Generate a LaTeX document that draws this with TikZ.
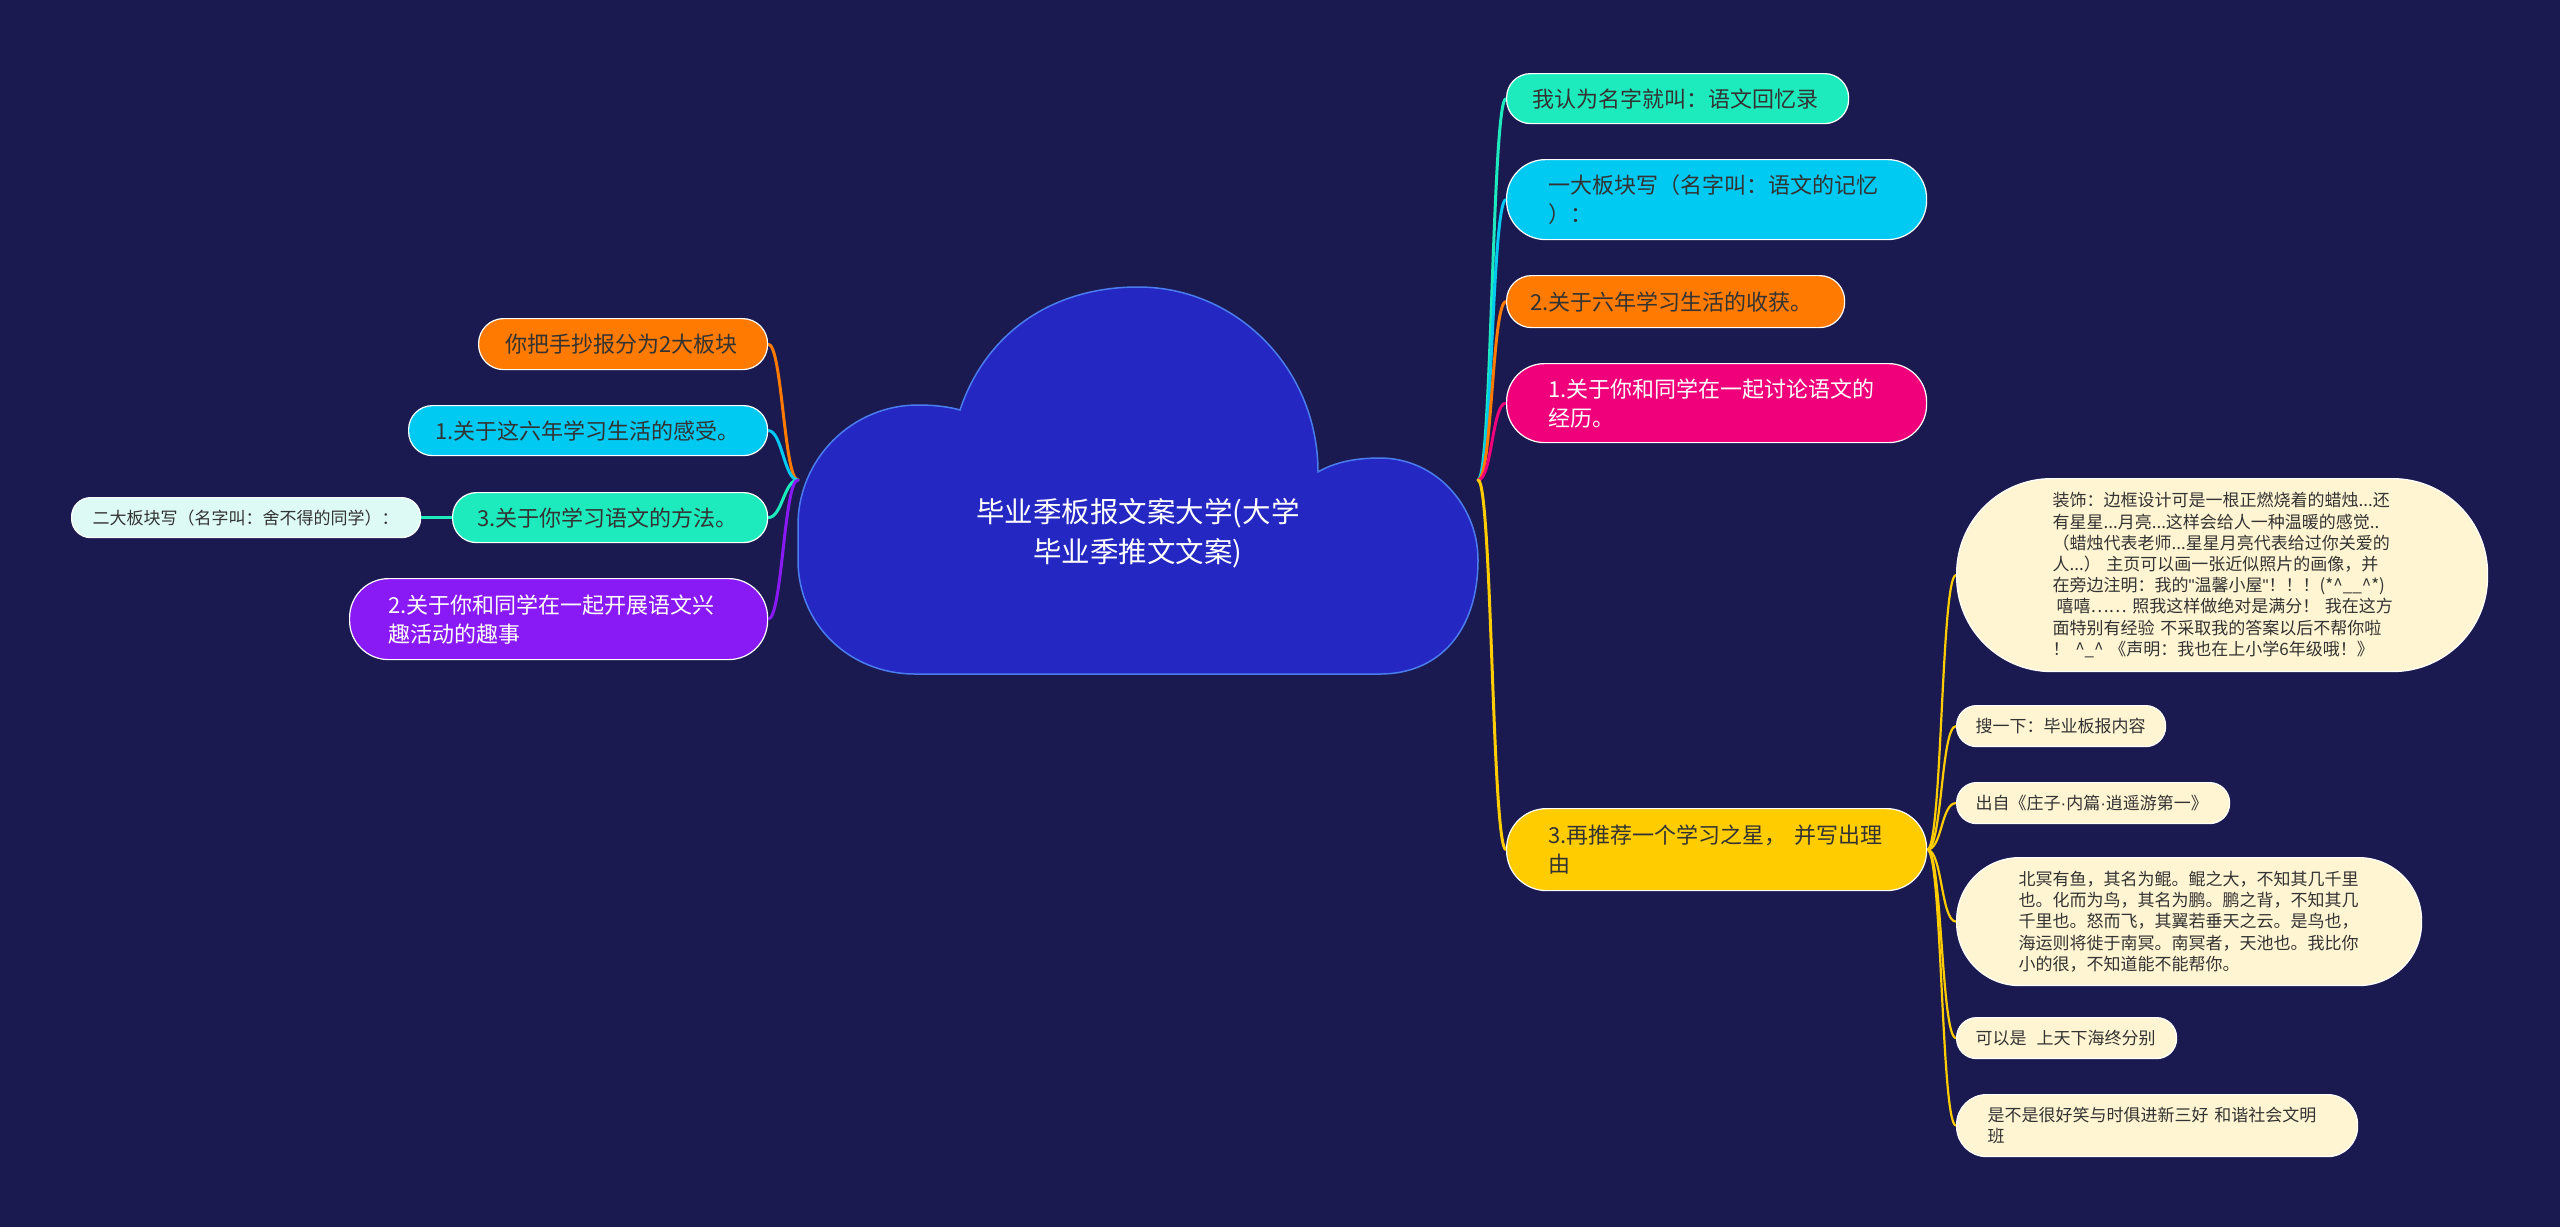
\documentclass[tikz,border=0pt]{standalone}
\usepackage{fontspec}
\setmainfont{Noto Sans CJK SC}
\newfontfamily\latinf{Liberation Sans}
\definecolor{bgc}{HTML}{1A1A50}
\definecolor{cloudfill}{HTML}{2427C2}
\definecolor{cloudline}{HTML}{4A7CF0}
\definecolor{cteal}{HTML}{1DEBBE}
\definecolor{ccyan}{HTML}{00C9F2}
\definecolor{corange}{HTML}{FF7A00}
\definecolor{cpink}{HTML}{F0007A}
\definecolor{cyellow}{HTML}{FFCC00}
\definecolor{cpurple}{HTML}{8A1AF5}
\definecolor{ccream}{HTML}{FFF5D2}
\definecolor{cmint}{HTML}{DEFAF5}
\definecolor{tdark}{HTML}{333333}
\newcommand\fsLv{\fontsize{22pt}{29pt}\selectfont}
\newcommand\fsCr{\fontsize{17pt}{21.2pt}\selectfont}
\newcommand\fsTi{\fontsize{28.5pt}{40pt}\selectfont}
\newcommand\sqt{{\latinf\symbol{34}}}
\newcommand\mdot{{\latinf\symbol{"00B7}}}
\pgfdeclarelayer{back}
\pgfdeclarelayer{links}
\pgfsetlayers{back,links,main}
\begin{document}
\begin{tikzpicture}[x=1pt,y=-1pt,
  pill/.style={draw=white, line width=1.2pt, anchor=north west, inner ysep=0pt,
    align=left, text=tdark},
  lvl/.style={pill, font=\fsLv},
  crm/.style={pill, font=\fsCr, fill=ccream},
  link/.style={line width=3pt, line cap=round},
  sublink/.style={line width=2.2pt, line cap=round, cyellow}]
\begin{pgfonlayer}{back}
\fill[bgc] (0,0) rectangle (2560,1227);
\end{pgfonlayer}
\useasboundingbox (0,0) rectangle (2560,1227);

% cloud
\draw[fill=cloudfill, draw=cloudline, line width=1.5pt]
  (1318,472) .. controls (1335,462) and (1356,458) .. (1380,458)
  .. controls (1435,458) and (1478,505) .. (1478,560)
  .. controls (1478,630) and (1440,674) .. (1380,674)
  -- (915,674)
  .. controls (850,674) and (798,625) .. (798,560)
  -- (798,525)
  .. controls (798,459) and (852,405) .. (918,405)
  .. controls (935,405) and (950,407) .. (960,410)
  .. controls (985,335) and (1050,287) .. (1138,287)
  .. controls (1237,287) and (1318,369) .. (1318,472) -- cycle;
\node[align=center, text=white, font=\fsTi] (title) at (1138,533)
  {毕业季板报文案大学(大学\\毕业季推文文案)};
\coordinate (rootR) at (1478,480);
\coordinate (rootL) at (798,480);

% right level 1
\node[lvl, fill=cteal, minimum height=50pt, text width=290pt, inner xsep=26pt, rounded corners=24pt] (r1) at (1506,73) {我认为名字就叫：语文回忆录};
\node[lvl, fill=ccyan, minimum height=80pt, text width=336pt, inner xsep=42pt, rounded corners=39pt] (r2) at (1506,159) {一大板块写（名字叫：语文的记忆\\）：};
\node[lvl, fill=corange, minimum height=52pt, text width=290pt, inner xsep=24pt, rounded corners=25pt] (r3) at (1506,275) {2.关于六年学习生活的收获。};
\node[lvl, fill=cpink, text=white, minimum height=79pt, text width=336pt, inner xsep=42pt, rounded corners=38pt] (r4) at (1506,363) {1.关于你和同学在一起讨论语文的\\经历。};
\node[lvl, fill=cyellow, minimum height=82pt, text width=336pt, inner xsep=42pt, rounded corners=40pt] (r5) at (1506,808) {3.再推荐一个学习之星，~并写出理\\由};

% cream children
\node[crm, minimum height=193pt, text width=339pt, inner xsep=96pt, rounded corners=95pt] (c1) at (1956,478)
  {装饰：边框设计可是一根正燃烧着的蜡烛...还\\
   有星星...月亮...这样会给人一种温暖的感觉..\\
   （蜡烛代表老师...星星月亮代表给过你关爱的\\
   人...）~主页可以画一张近似照片的画像，并\\
   在旁边注明：我的\sqt 温馨小屋\sqt！！！(*\textasciicircum\_\_\textasciicircum*)\\
   \hspace*{4pt}嘻嘻……~照我这样做绝对是满分！~我在这方\\
   面特别有经验~不采取我的答案以后不帮你啦\\
   ！~\textasciicircum\_\textasciicircum~《声明：我也在上小学6年级哦！》};
\node[crm, minimum height=41pt, text width=171pt, inner xsep=19pt, rounded corners=20pt] (c2) at (1956,705) {搜一下：毕业板报内容};
\node[crm, minimum height=41pt, text width=235pt, inner xsep=19pt, rounded corners=20pt] (c3) at (1956,782) {出自《庄子\mdot 内篇\mdot 逍遥游第一》};
\node[crm, minimum height=128pt, text width=341pt, inner xsep=62pt, rounded corners=63pt] (c4) at (1956,857)
  {北冥有鱼，其名为鲲。鲲之大，不知其几千里\\
   也。化而为鸟，其名为鹏。鹏之背，不知其几\\
   千里也。怒而飞，其翼若垂天之云。是鸟也，\\
   海运则将徙于南冥。南冥者，天池也。我比你\\
   小的很，不知道能不能帮你。};
\node[crm, minimum height=41pt, text width=182pt, inner xsep=19pt, rounded corners=20pt] (c5) at (1956,1017) {可以是\hspace{10pt}上天下海终分别};
\node[crm, minimum height=62pt, text width=339pt, inner xsep=31pt, rounded corners=30pt] (c6) at (1956,1094) {是不是很好笑与时俱进新三好~和谐社会文明\\班};

% left level 1
\node[lvl, fill=corange, minimum height=51pt, text width=235pt, inner xsep=27pt, rounded corners=25pt] (l1) at (478,318) {你把手抄报分为2大板块};
\node[lvl, fill=ccyan, minimum height=50pt, text width=305pt, inner xsep=27pt, rounded corners=24pt] (l2) at (408,405) {1.关于这六年学习生活的感受。};
\node[lvl, fill=cteal, minimum height=50pt, text width=265pt, inner xsep=25pt, rounded corners=24pt] (l3) at (452,492) {3.关于你学习语文的方法。};
\node[lvl, fill=cpurple, text=white, minimum height=81pt, text width=340pt, inner xsep=39pt, rounded corners=39pt] (l4) at (349,578) {2.关于你和同学在一起开展语文兴\\趣活动的趣事};
\node[crm, fill=cmint, minimum height=40pt, text width=307pt, inner xsep=21pt, rounded corners=19pt] (l3c) at (71,497) {二大板块写（名字叫：舍不得的同学）：};

% connectors
\begin{pgfonlayer}{links}
\draw[link, cteal]   (rootR) .. controls +(14,0) and +(-14,0) .. (r1.west);
\draw[link, ccyan]   (rootR) .. controls +(14,0) and +(-14,0) .. (r2.west);
\draw[link, corange] (rootR) .. controls +(14,0) and +(-14,0) .. (r3.west);
\draw[link, cpink]   (rootR) .. controls +(14,0) and +(-14,0) .. (r4.west);
\draw[link, cyellow] (rootR) .. controls +(14,0) and +(-14,0) .. (r5.west);
\foreach \c in {c1,c2,c3,c4,c5,c6}
  \draw[sublink] (r5.east) .. controls +(15,0) and +(-15,0) .. (\c.west);
\draw[link, corange] (rootL) .. controls +(-14,0) and +(14,0) .. (l1.east);
\draw[link, ccyan]   (rootL) .. controls +(-14,0) and +(14,0) .. (l2.east);
\draw[link, cteal]   (rootL) .. controls +(-14,0) and +(14,0) .. (l3.east);
\draw[link, cpurple] (rootL) .. controls +(-14,0) and +(14,0) .. (l4.east);
\draw[link, cteal]   (l3.west) -- (l3c.east);
\end{pgfonlayer}
\end{tikzpicture}
\end{document}
